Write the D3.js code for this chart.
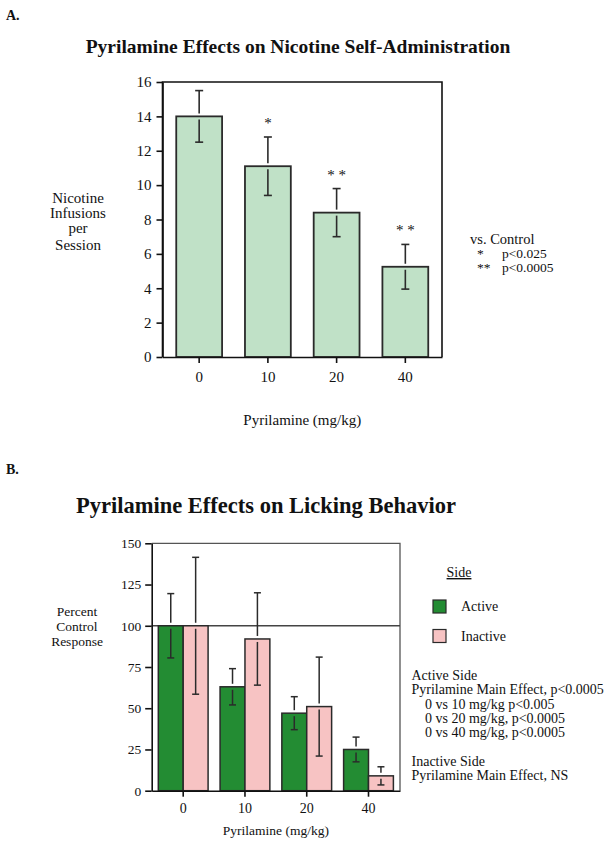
<!DOCTYPE html>
<html><head><meta charset="utf-8">
<script src="https://cdn.jsdelivr.net/npm/d3@7"></script>
<style>
body{margin:0;background:#fff}
svg{display:block}
text{font-family:"Liberation Serif","Times New Roman",serif;fill:#111}
</style>
</head><body>
<svg id="c" width="612" height="847"></svg>
<script>
// ---------- Data: panel A ----------
const dosesA = ["0", "10", "20", "40"];
const infusions = [14.0, 11.1, 8.4, 5.25];
const infusionsErr = [1.5, 1.7, 1.4, 1.3];
const sigA = ["", "*", "* *", "* *"];
const ticksA = [0, 2, 4, 6, 8, 10, 12, 14, 16];
const legendA = [["*", "p<0.025"], ["**", "p<0.0005"]];

// ---------- Data: panel B ----------
const dosesB = ["0", "10", "20", "40"];
const sides = ["Active", "Inactive"];
const activePct = [100, 63, 47, 25];
const activeErr = [19.5, 11, 10, 7.5];
const inactivePct = [100, 92, 51, 9];
const inactiveErr = [41.5, 28, 30, 5.5];
const ticksB = [0, 25, 50, 75, 100, 125, 150];
const statsB = [
  ["Active Side", 0],
  ["Pyrilamine Main Effect, p<0.0005", 0],
  ["0 vs 10 mg/kg p<0.005", 1],
  ["0 vs 20 mg/kg, p<0.0005", 1],
  ["0 vs 40 mg/kg, p<0.0005", 1],
  ["", 0],
  ["Inactive Side", 0],
  ["Pyrilamine Main Effect, NS", 0]
];

const svg = d3.select("#c");
const ERR = "#2b2b2b";

function errorBar(g, cx, yTop, yVal, yBot, cap, gap) {
  g.append("line").attr("x1", cx).attr("x2", cx).attr("y1", yTop).attr("y2", yVal - gap);
  g.append("line").attr("x1", cx).attr("x2", cx).attr("y1", yVal + gap).attr("y2", yBot);
  g.append("line").attr("x1", cx - cap/2).attr("x2", cx + cap/2).attr("y1", yTop).attr("y2", yTop);
  g.append("line").attr("x1", cx - cap/2).attr("x2", cx + cap/2).attr("y1", yBot).attr("y2", yBot);
}

// ================= Panel A =================
svg.append("text").attr("x", 6).attr("y", 20).attr("font-size", 14).attr("font-weight", "bold").text("A.");
svg.append("text").attr("x", 298).attr("y", 53).attr("text-anchor", "middle")
  .attr("font-size", 19.5).attr("font-weight", "bold")
  .text("Pyrilamine Effects on Nicotine Self-Administration");

const A = {l: 162.5, r: 442, t: 82, b: 357};
const xA = d3.scaleBand().domain(dosesA).range([A.l, A.r]).paddingInner(0.333).paddingOuter(0.2);
const yA = d3.scaleLinear().domain([0, 16]).range([A.b, A.t]);
const gA = svg.append("g");

gA.selectAll("rect.bar").data(dosesA).join("rect").attr("class", "bar")
  .attr("x", d => xA(d)).attr("width", xA.bandwidth())
  .attr("y", (d, i) => yA(infusions[i])).attr("height", (d, i) => A.b - yA(infusions[i]))
  .attr("fill", "#c0e1c7").attr("stroke", "#2a2a2a").attr("stroke-width", 1.8);

const ebA = gA.append("g").attr("stroke", ERR).attr("stroke-width", 1.6);
dosesA.forEach((d, i) => {
  const cx = xA(d) + xA.bandwidth()/2;
  errorBar(ebA, cx, yA(infusions[i] + infusionsErr[i]), yA(infusions[i]), yA(infusions[i] - infusionsErr[i]), 8, 3);
  if (sigA[i]) {
    gA.append("text").attr("x", cx).attr("y", yA(infusions[i] + infusionsErr[i]) - 9)
      .attr("text-anchor", "middle").attr("font-size", 15).attr("fill", "#333").text(sigA[i]);
  }
});

// frame
gA.append("path").attr("d", `M${A.l},${A.b}V${A.t}H${A.r}V${A.b}`).attr("fill", "none")
  .attr("stroke", "#111").attr("stroke-width", 1.6);

const axLA = gA.append("g").attr("transform", `translate(${A.l},0)`)
  .call(d3.axisLeft(yA).tickValues(ticksA).tickSize(6).tickPadding(5).tickSizeOuter(0));
axLA.selectAll("text").attr("font-size", 15).attr("font-family", "Liberation Serif").attr("fill", "#111");
axLA.selectAll("line,path").attr("stroke", "#111").attr("stroke-width", 1.6);

const axBA = gA.append("g").attr("transform", `translate(0,${A.b})`)
  .call(d3.axisBottom(xA).tickSize(6).tickPadding(8).tickSizeOuter(0));
axBA.selectAll("text").attr("font-size", 15).attr("font-family", "Liberation Serif").attr("fill", "#111");
axBA.selectAll("line,path").attr("stroke", "#111").attr("stroke-width", 1.6);

const ylabA = ["Nicotine", "Infusions", "per", "Session"];
const ylabAy = [203, 218, 233, 250];
ylabA.forEach((t, i) => svg.append("text").attr("x", 78).attr("y", ylabAy[i])
  .attr("text-anchor", "middle").attr("font-size", 15).text(t));

svg.append("text").attr("x", (A.l + A.r)/2).attr("y", 425).attr("text-anchor", "middle")
  .attr("font-size", 15).text("Pyrilamine (mg/kg)");

svg.append("text").attr("x", 470).attr("y", 244).attr("font-size", 14.5).text("vs. Control");
legendA.forEach((r, i) => {
  svg.append("text").attr("x", 477).attr("y", 258 + i*14).attr("font-size", 13.5).text(r[0]);
  svg.append("text").attr("x", 502).attr("y", 258 + i*14).attr("font-size", 13.5).text(r[1]);
});

// ================= Panel B =================
svg.append("text").attr("x", 6).attr("y", 474).attr("font-size", 14).attr("font-weight", "bold").text("B.");
svg.append("text").attr("x", 266).attr("y", 513).attr("text-anchor", "middle")
  .attr("font-size", 22.5).attr("font-weight", "bold")
  .text("Pyrilamine Effects on Licking Behavior");

const B = {l: 151.7, r: 400, t: 543.3, b: 790.7};
const x0 = d3.scaleBand().domain(dosesB).range([B.l, B.r]).paddingInner(0.194).paddingOuter(0.107);
const x1 = d3.scaleBand().domain(sides).range([0, x0.bandwidth()]);
const yB = d3.scaleLinear().domain([0, 150]).range([B.b, B.t]);
const colorB = d3.scaleOrdinal().domain(sides).range(["#238c33", "#f7c3c3"]);
const gB = svg.append("g");

// frame (top + right, thin grey)
gB.append("path").attr("d", `M${B.l},${B.t}H${B.r}V${B.b}`).attr("fill", "none")
  .attr("stroke", "#555").attr("stroke-width", 1.3);
// 100% reference line
gB.append("line").attr("x1", B.l).attr("x2", B.r).attr("y1", yB(100)).attr("y2", yB(100))
  .attr("stroke", "#444").attr("stroke-width", 1.3);

const seriesB = [
  {side: "Active", vals: activePct, errs: activeErr},
  {side: "Inactive", vals: inactivePct, errs: inactiveErr}
];
seriesB.forEach(s => {
  gB.selectAll(null).data(dosesB).join("rect")
    .attr("x", d => x0(d) + x1(s.side)).attr("width", x1.bandwidth())
    .attr("y", (d, i) => yB(s.vals[i])).attr("height", (d, i) => B.b - yB(s.vals[i]))
    .attr("fill", colorB(s.side)).attr("stroke", "#2a2a2a").attr("stroke-width", 1.5);
});
const ebB = gB.append("g").attr("stroke", ERR).attr("stroke-width", 1.5);
seriesB.forEach(s => {
  dosesB.forEach((d, i) => {
    const cx = x0(d) + x1(s.side) + x1.bandwidth()/2;
    errorBar(ebB, cx, yB(s.vals[i] + s.errs[i]), yB(s.vals[i]), yB(s.vals[i] - s.errs[i]), 7, 3);
  });
});

const axLB = gB.append("g").attr("transform", `translate(${B.l},0)`)
  .call(d3.axisLeft(yB).tickValues(ticksB).tickSize(6.5).tickPadding(4).tickSizeOuter(0));
axLB.selectAll("text").attr("font-size", 13.5).attr("font-family", "Liberation Serif").attr("fill", "#111");
axLB.selectAll("line,path").attr("stroke", "#111").attr("stroke-width", 1.6);

const axBB = gB.append("g").attr("transform", `translate(0,${B.b})`)
  .call(d3.axisBottom(x0).tickSize(6).tickPadding(6).tickSizeOuter(0));
axBB.selectAll("text").attr("font-size", 14).attr("font-family", "Liberation Serif").attr("fill", "#111");
axBB.selectAll("line,path").attr("stroke", "#111").attr("stroke-width", 1.6);

const ylabB = ["Percent", "Control", "Response"];
ylabB.forEach((t, i) => svg.append("text").attr("x", 77).attr("y", 616 + i*15)
  .attr("text-anchor", "middle").attr("font-size", 13.5).text(t));

svg.append("text").attr("x", (B.l + B.r)/2).attr("y", 835).attr("text-anchor", "middle")
  .attr("font-size", 13.5).text("Pyrilamine (mg/kg)");

// legend
svg.append("text").attr("x", 459).attr("y", 577).attr("text-anchor", "middle")
  .attr("font-size", 14).attr("text-decoration", "underline").text("Side");
sides.forEach((s, i) => {
  svg.append("rect").attr("x", 433).attr("y", 600 + i*29.5).attr("width", 13).attr("height", 13)
    .attr("fill", colorB(s)).attr("stroke", "#2a2a2a").attr("stroke-width", 1.2);
  svg.append("text").attr("x", 461).attr("y", 611 + i*29.5).attr("font-size", 14).text(s);
});

statsB.forEach((r, i) => {
  if (!r[0]) return;
  svg.append("text").attr("x", r[1] ? 425 : 411.5).attr("y", 680 + i*14.3)
    .attr("font-size", 14).text(r[0]);
});
</script>
</body></html>
